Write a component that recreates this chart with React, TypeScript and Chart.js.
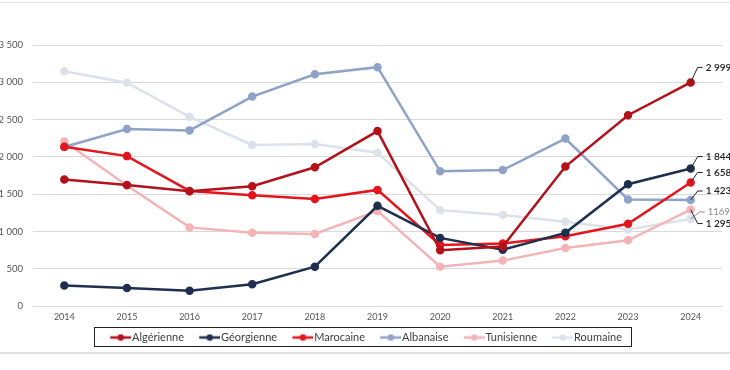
import React, { useEffect, useRef } from "react";
import { Chart, registerables } from "chart.js";

Chart.register(...registerables);

const years = ["2014", "2015", "2016", "2017", "2018", "2019", "2020", "2021", "2022", "2023", "2024"];
const algerienne = [1699, 1625, 1540, 1608, 1862, 2347, 750, 800, 1871, 2559, 2999];
const georgienne = [276, 245, 208, 294, 530, 1345, 915, 757, 983, 1635, 1844];
const marocaine = [2138, 2011, 1545, 1486, 1436, 1558, 820, 840, 938, 1105, 1658];
const albanaise = [2134, 2374, 2356, 2809, 3108, 3203, 1807, 1825, 2247, 1431, 1423];
const tunisienne = [2206, 1617, 1056, 983, 969, 1277, 530, 611, 779, 883, 1295];
const roumaine = [3149, 2994, 2537, 2161, 2174, 2056, 1287, 1223, 1132, 1029, 1169];
const seriesNames = ["Algérienne", "Géorgienne", "Marocaine", "Albanaise", "Tunisienne", "Roumaine"];
const endLabels = ["2 999", "1 844", "1 658", "1 423", "1 295", "1169"];
const yTicks = [0, 500, 1000, 1500, 2000, 2500, 3000, 3500];

const colors = ["#b3121b", "#1f2f4f", "#e3151d", "#8fa2c8", "#f3b4b7", "#dde2ea"];
// label offset (dx, dy from last point) for callouts
const calloutOffsets = [
  [15, -15],
  [15, -12],
  [15, -10],
  [15, -9],
  [15, 14],
  [17, -7],
];
const calloutColors = ["#222", "#222", "#222", "#222", "#222", "#8a8a8a"];
const calloutFonts = ["600 10px Lato", "600 10px Lato", "600 10px Lato", "600 10px Lato", "600 10px Lato", "400 9.5px Lato"];

const fmt = (n: number) => n.toString().replace(/\B(?=(\d{3})+(?!\d))/g, " ");

// legend icon: transparent left part acts as spacing between legend items
function makeLegendIcon(color: string) {
  const c = document.createElement("canvas");
  c.width = 36;
  c.height = 8;
  const ctx = c.getContext("2d")!;
  ctx.strokeStyle = color;
  ctx.lineWidth = 2.5;
  ctx.beginPath();
  ctx.moveTo(15, 4);
  ctx.lineTo(36, 4);
  ctx.stroke();
  ctx.fillStyle = color;
  ctx.beginPath();
  ctx.arc(25.5, 4, 3.2, 0, Math.PI * 2);
  ctx.fill();
  return c;
}

const calloutPlugin = {
  id: "callouts",
  afterDatasetsDraw(chart: any) {
    const ctx = chart.ctx;
    ctx.save();
    chart.data.datasets.forEach((ds: any, i: number) => {
      const meta = chart.getDatasetMeta(i);
      const pt = meta.data[meta.data.length - 1];
      if (!pt) return;
      const [dx, dy] = calloutOffsets[i];
      const lx = pt.x + dx;
      const ly = pt.y + dy;
      ctx.strokeStyle = calloutColors[i];
      ctx.lineWidth = 1;
      ctx.beginPath();
      ctx.moveTo(pt.x, pt.y);
      ctx.lineTo(lx - 8, ly);
      ctx.lineTo(lx - 3, ly);
      ctx.stroke();
      ctx.fillStyle = calloutColors[i];
      ctx.font = calloutFonts[i];
      ctx.textAlign = "left";
      ctx.textBaseline = "middle";
      ctx.fillText(endLabels[i], lx, ly);
    });
    ctx.restore();
  },
};

const legendBoxPlugin = {
  id: "legendBox",
  afterDraw(chart: any) {
    const boxes = chart.legend && chart.legend.legendHitBoxes;
    if (!boxes || !boxes.length) return;
    let minX = Infinity, maxX = -Infinity, minY = Infinity, maxY = -Infinity;
    boxes.forEach((b: any) => {
      minX = Math.min(minX, b.left);
      maxX = Math.max(maxX, b.left + b.width);
      minY = Math.min(minY, b.top);
      maxY = Math.max(maxY, b.top + b.height);
    });
    const ctx = chart.ctx;
    ctx.save();
    ctx.strokeStyle = "#222";
    ctx.lineWidth = 1;
    const x0 = Math.round(minX - 6) + 0.5;
    const y0 = Math.round(minY - 5) + 0.5;
    ctx.strokeRect(x0, y0, Math.round(maxX + 9 - x0), Math.round(maxY - minY + 8));
    ctx.restore();
  },
};

export default function App() {
  const ref = useRef<HTMLCanvasElement>(null);
  useEffect(() => {
    const seriesData = [algerienne, georgienne, marocaine, albanaise, tunisienne, roumaine];
    const icons = colors.map((c) => makeLegendIcon(c));
    const chart = new Chart(ref.current!, {
      type: "line",
      data: {
        labels: years,
        datasets: seriesData.map((d, i) => ({
          label: seriesNames[i],
          data: d,
          borderColor: colors[i],
          backgroundColor: colors[i],
          pointBackgroundColor: colors[i],
          pointBorderColor: colors[i],
          pointRadius: 3,
          borderWidth: 2.5,
          tension: 0,
        })),
      },
      options: {
        animation: false,
        responsive: false,
        layout: { padding: { top: 45, right: 8, left: 0, bottom: 17 } },
        plugins: {
          tooltip: { enabled: false },
          legend: {
            position: "bottom",
            labels: {
              usePointStyle: true,
              pointStyleWidth: 26.5,
              padding: 5,
              color: "#404040",
              font: { family: "Lato", size: 11 },
              generateLabels: (chart: any) =>
                chart.data.datasets.map((ds: any, i: number) => ({
                  text: ds.label,
                  pointStyle: icons[i],
                  fillStyle: colors[i],
                  strokeStyle: colors[i],
                  lineWidth: 0,
                  fontColor: "#404040",
                  datasetIndex: i,
                  hidden: false,
                })),
            },
          },
        },
        scales: {
          x: {
            offset: true,
            grid: { display: false, drawTicks: false },
            border: { display: false },
            ticks: { color: "#555", font: { family: "Lato", size: 9 }, padding: 5 },
          },
          y: {
            min: 0,
            max: 3500,
            afterFit: (scale: any) => {
              scale.width = 33;
            },
            afterBuildTicks: (scale: any) => {
              scale.ticks = yTicks.map((v) => ({ value: v }));
            },
            grid: { color: "#d9d9d9", lineWidth: 1, drawTicks: false },
            border: { display: false },
            ticks: {
              color: "#555",
              font: { family: "Lato", size: 9.5 },
              padding: 10,
              callback: (v: any) => fmt(Number(v)),
            },
          },
        },
      },
      plugins: [calloutPlugin, legendBoxPlugin],
    });
    return () => chart.destroy();
  }, []);
  return (
    <div style={{ position: "fixed", left: 0, top: 0, width: 730, height: 370, background: "#fff" }}>
      <div style={{ position: "absolute", left: 0, top: 2, width: 730, height: 1, background: "#e2e2e2" }} />
      <canvas ref={ref} width={730} height={370} style={{ position: "absolute", left: 0, top: 0 }} />
      <div style={{ position: "absolute", left: 0, top: 352, width: 730, height: 2, background: "#e0e0e0" }} />
    </div>
  );
}
